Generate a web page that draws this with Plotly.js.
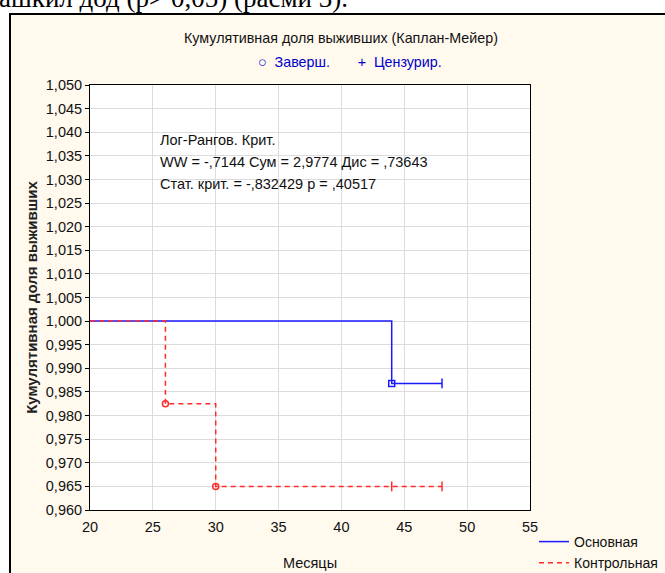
<!DOCTYPE html>
<html>
<head>
<meta charset="utf-8">
<script src="https://cdn.plot.ly/plotly-3.0.1.min.js"></script>
<style>
  html, body { margin:0; padding:0; width:665px; height:573px; overflow:hidden; background:#ffffff; }
  #toptext { position:absolute; left:-1px; top:-17px; font-family:"Liberation Serif", serif; font-size:27px; color:#000; white-space:nowrap; }
  #frame { position:absolute; left:9px; top:13px; width:700px; height:600px; background:#fff9ee; border-left:2px solid #000; border-top:2px solid #000; }
  #chart { position:absolute; left:0; top:0; width:665px; height:573px; }
</style>
</head>
<body>
<div id="toptext">ашкил дод (р&gt; 0,05) (расми 3).</div>
<div id="frame"></div>
<div id="chart"></div>
<script>
// Основная group: step survival
const mainTimes = [20, 44, 48];
const mainSurv  = [1.0, 0.9868, 0.9868];
const mainEventT = [44];
const mainEventS = [0.9868];
const mainCensT  = [48];
const mainCensS  = [0.9868];

// Контрольная group
const ctrlTimes = [20, 26, 30, 48];
const ctrlSurv  = [1.0, 0.9825, 0.9650, 0.9650];
const ctrlEventT = [26, 30];
const ctrlEventS = [0.9825, 0.9650];
const ctrlCensT  = [44, 48];
const ctrlCensS  = [0.9650, 0.9650];

const statLines = [
  "Лог-Рангов. Крит.",
  "WW = -,7144 Сум = 2,9774 Дис = ,73643",
  "Стат. крит. = -,832429 p = ,40517"
];

const blue = "#1a1aff";
const red = "#ff2b2b";
const font = "Liberation Sans, Arial, sans-serif";

const traces = [
  {x: mainTimes, y: mainSurv, mode: "lines", line: {shape: "hv", color: blue, width: 1.5}, name: "Основная", showlegend: true},
  {x: ctrlTimes, y: ctrlSurv, mode: "lines", line: {shape: "hv", color: red, width: 1.5, dash: "5px,4px"}, name: "Контрольная", showlegend: true},
  {x: mainEventT, y: mainEventS, mode: "markers", marker: {symbol: "square-open", size: 6, color: blue, line: {width: 1.5, color: blue}}, showlegend: false},
  {x: mainCensT, y: mainCensS, mode: "markers", marker: {symbol: "line-ns-open", size: 7, color: blue, line: {width: 1.5, color: blue}}, showlegend: false},
  {x: ctrlEventT, y: ctrlEventS, mode: "markers", marker: {symbol: "circle-open", size: 6, color: red, line: {width: 1.5, color: red}}, showlegend: false},
  {x: ctrlCensT, y: ctrlCensS, mode: "markers", marker: {symbol: "line-ns-open", size: 7, color: red, line: {width: 1.5, color: red}}, showlegend: false}
];

const annotations = statLines.map((t, i) => ({
  text: t, xref: "paper", yref: "paper", x: (158 - 90) / 440, y: (510 - 140 - i * 22) / 425,
  xanchor: "left", yanchor: "middle", showarrow: false,
  font: {family: font, size: 14.5, color: "#111"}
}));
annotations.push({
  text: "Кумулятивная доля выживших (Каплан-Мейер)", xref: "paper", yref: "paper",
  x: (341 - 90) / 440, y: (510 - 38) / 425, xanchor: "center", yanchor: "middle",
  showarrow: false, font: {family: font, size: 14.3, color: "#111"}
});
annotations.push({
  text: "○  Заверш.       +  Цензурир.", xref: "paper", yref: "paper",
  x: (350 - 90) / 440, y: (510 - 62) / 425, xanchor: "center", yanchor: "middle",
  showarrow: false, font: {family: font, size: 14.3, color: "#0000cc"}
});

const layout = {
  width: 665, height: 573,
  paper_bgcolor: "rgba(0,0,0,0)",
  plot_bgcolor: "#ffffff",
  separators: ", ",
  margin: {l: 90, r: 135, t: 85, b: 63, autoexpand: false},
  font: {family: font, size: 14, color: "#111"},
  xaxis: {
    range: [20, 55], dtick: 5, tick0: 20,
    showgrid: true, gridcolor: "#dcdcdc", gridwidth: 1,
    showline: true, linecolor: "#000", linewidth: 1, mirror: true,
    ticks: "", zeroline: false, ticklabelstandoff: 4, automargin: false,
    tickfont: {family: font, size: 14.5, color: "#111"},
    title: {text: "Месяцы", font: {family: font, size: 14.5, color: "#111"}, standoff: 23}
  },
  yaxis: {
    range: [0.96, 1.05], dtick: 0.005, tick0: 0.96, tickformat: ".3f",
    showgrid: true, gridcolor: "#dcdcdc", gridwidth: 1,
    showline: true, linecolor: "#000", linewidth: 1, mirror: true,
    ticks: "outside", ticklen: 4, tickcolor: "#000", zeroline: false, automargin: false,
    tickfont: {family: font, size: 14.5, color: "#111"},
    title: {text: "<b>Кумулятивная доля выживших</b>", font: {family: font, size: 15, color: "#222"}, standoff: 4}
  },
  showlegend: true,
  legend: {
    xref: "container", yref: "container",
    x: 534 / 665, xanchor: "left", y: 1 - 526 / 573, yanchor: "top",
    bgcolor: "rgba(0,0,0,0)", font: {family: font, size: 14, color: "#111"},
    tracegroupgap: 0, itemwidth: 30, tracegroupgap: 0
  },
  annotations: annotations
};

Plotly.newPlot("chart", traces, layout, {staticPlot: true, displayModeBar: false});
</script>
</body>
</html>
